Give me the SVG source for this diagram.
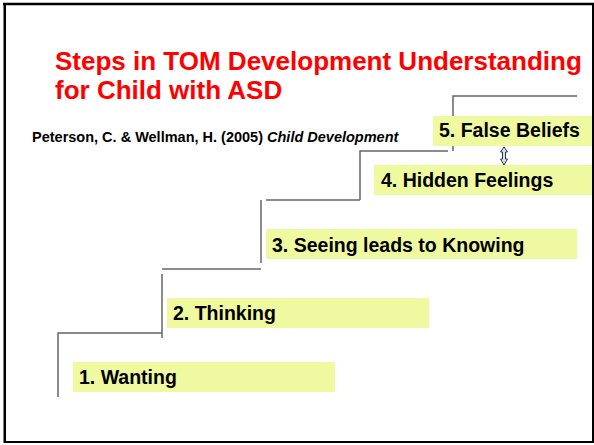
<svg xmlns="http://www.w3.org/2000/svg" width="594" height="445" viewBox="0 0 594 445">
  <defs>
    <style>
      .frame { fill: #ffffff; stroke: #000000; stroke-width: 2; }
      .title { font-family: "Liberation Sans", Arial, sans-serif; font-weight: bold; font-size: 26px; fill: #ff0000; }
      .cite { font-family: "Liberation Sans", Arial, sans-serif; font-weight: bold; font-size: 14.5px; fill: #000000; }
      .step { stroke: #666666; stroke-width: 1.5; fill: none; }
      .box { fill: #effaa0; }
      .label { font-family: "Liberation Sans", Arial, sans-serif; font-weight: bold; font-size: 19.5px; fill: #000000; }
      .arrow { fill: #cfe4ec; stroke: #333333; stroke-width: 1; }
    </style>
  </defs>

  <!-- slide frame -->
  <rect class="frame" x="5" y="4" width="588" height="438"/>
  <line x1="4.5" y1="3" x2="4.5" y2="443" stroke="#000" stroke-width="2"/>
  <line x1="3" y1="4" x2="594" y2="4" stroke="#000" stroke-width="2.5"/>

  <!-- heading -->
  <text class="title" x="55" y="70">Steps in TOM Development Understanding</text>
  <text class="title" x="55" y="99">for Child with ASD</text>

  <!-- citation -->
  <text class="cite" x="32" y="142">Peterson, C. &amp; Wellman, H. (2005) <tspan font-style="italic">Child Development</tspan></text>

  <!-- staircase outline -->
  <g id="connectors">
    <polyline class="step" points="58,397 58,333 162,333"/>
    <line class="step" x1="162" y1="274" x2="162" y2="338"/>
    <line class="step" x1="162" y1="269" x2="261" y2="269"/>
    <line class="step" x1="261" y1="200" x2="261" y2="263"/>
    <line class="step" x1="266" y1="200" x2="360" y2="200"/>
    <polyline class="step" points="360,200 360,151 448,151"/>
    <polyline class="step" points="453,151 453,96 577,96"/>
    <!-- double-headed arrow between steps 4 and 5 -->
    <path class="arrow" d="M504,147 L507.5,152 L505.5,152 L505.5,159 L507.5,159 L504,165 L500.5,159 L502.5,159 L502.5,152 L500.5,152 Z"/>
  </g>

  <!-- steps -->
  <g id="step1">
    <rect class="box" x="73" y="362" width="262" height="30"/>
    <text class="label" x="79" y="384">1. Wanting</text>
  </g>
  <g id="step2">
    <rect class="box" x="167" y="298" width="262" height="30"/>
    <text class="label" x="173" y="320">2. Thinking</text>
  </g>
  <g id="step3">
    <rect class="box" x="266" y="229" width="311" height="30"/>
    <text class="label" x="272" y="252">3. Seeing leads to Knowing</text>
  </g>
  <g id="step4">
    <rect class="box" x="374" y="165" width="218" height="30"/>
    <text class="label" x="381" y="187">4. Hidden Feelings</text>
  </g>
  <g id="step5">
    <rect class="box" x="433" y="116" width="159" height="30"/>
    <text class="label" x="439" y="137">5. False Beliefs</text>
  </g>
</svg>
